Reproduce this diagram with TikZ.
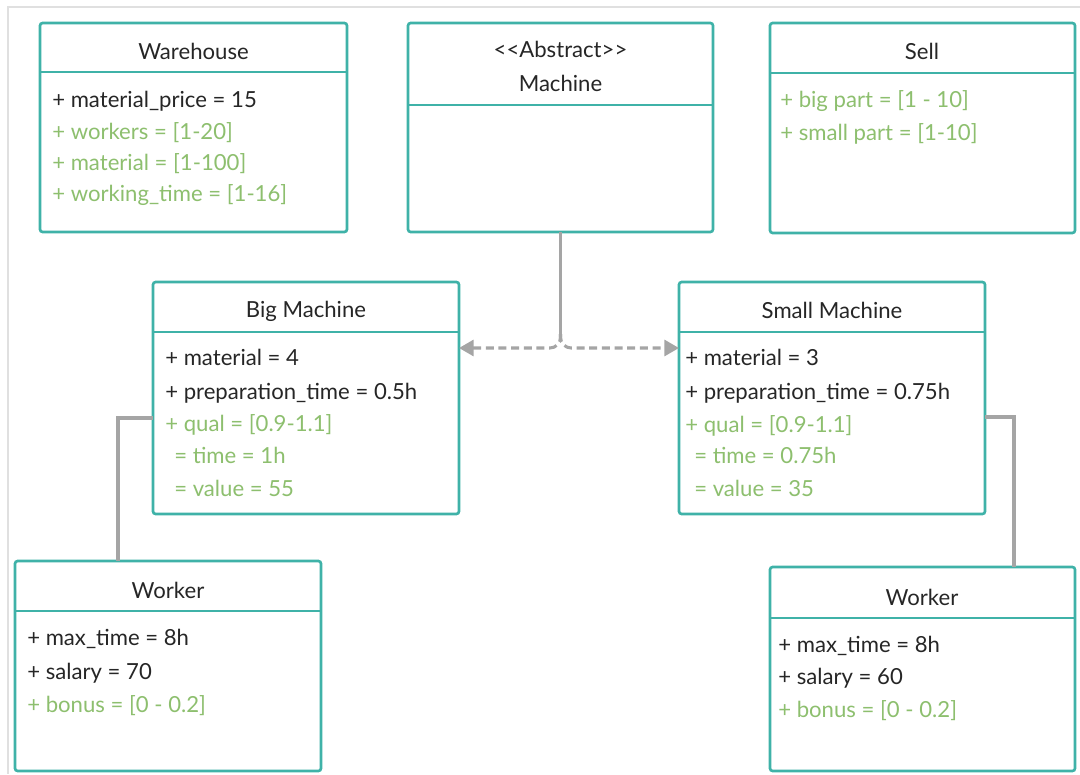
\documentclass[tikz,border=0pt]{standalone}
\usepackage{fontspec}
\setmainfont{Lato}
\usetikzlibrary{arrows.meta}
\definecolor{tealB}{HTML}{3FB2A8}
\definecolor{greenT}{HTML}{8DBF6E}
\definecolor{darkT}{HTML}{262626}
\definecolor{connG}{HTML}{A5A5A5}
\begin{document}
\begin{tikzpicture}[x=0.75pt,y=-0.75pt,
  classbox/.style={draw=tealB, line width=2pt, rounded corners=2pt, fill=white, anchor=north west, inner sep=0pt, outer sep=0pt},
  divider/.style={draw=tealB, line width=2pt},
  ttl/.style={font=\fontsize{16.6}{19}\selectfont, text=darkT, inner sep=0pt},
  attr/.style={font=\fontsize{16.6}{19}\selectfont, text=darkT, anchor=west, inner sep=0pt, text height=0.75em, text depth=0.25em, yshift=-2.2pt},
  gattr/.style={attr, text=greenT},
  conn/.style={draw=connG, line width=2.3pt},
  dconn/.style={conn, dash pattern=on 6pt off 3.5pt, rounded corners=8pt, -{Triangle[length=11pt,width=12pt]}},
]
\useasboundingbox (0,0) rectangle (1080,774);
\draw[draw=black!12, line width=0.8pt] (8,774) -- (8,7) -- (1080,7);

% boxes
\node[classbox, minimum width=307*0.75pt, minimum height=209*0.75pt] (wh) at (40,23) {};
\node[classbox, minimum width=305*0.75pt, minimum height=209*0.75pt] (m) at (408,23) {};
\node[classbox, minimum width=305*0.75pt, minimum height=210*0.75pt] (sell) at (770,23) {};
\node[classbox, minimum width=306*0.75pt, minimum height=232*0.75pt] (bm) at (153,282) {};
\node[classbox, minimum width=306*0.75pt, minimum height=232*0.75pt] (sm) at (679,282) {};
\node[classbox, minimum width=306*0.75pt, minimum height=210*0.75pt] (wl) at (15,561) {};
\node[classbox, minimum width=305*0.75pt, minimum height=204*0.75pt] (wr) at (770,567) {};

% dividers
\draw[divider] (wh.west |- 0,72) -- (wh.east |- 0,72);
\draw[divider] (m.west |- 0,105) -- (m.east |- 0,105);
\draw[divider] (sell.west |- 0,73) -- (sell.east |- 0,73);
\draw[divider] (bm.west |- 0,332) -- (bm.east |- 0,332);
\draw[divider] (sm.west |- 0,332) -- (sm.east |- 0,332);
\draw[divider] (wl.west |- 0,611) -- (wl.east |- 0,611);
\draw[divider] (wr.west |- 0,618) -- (wr.east |- 0,618);

% titles
\node[ttl] (whT) at (193.5,51) {Warehouse};
\node[ttl] (mS) at (560.5,49) {<{}<Abstract>{}>};
\node[ttl] (mT) at (560.5,83) {Machine};
\node[ttl] (sellT) at (922,51) {Sell};
\node[ttl] (bmT) at (306,311) {Big Machine};
\node[ttl] (smT) at (832,310) {Small Machine};
\node[ttl] (wlT) at (168,590) {Worker};
\node[ttl] (wrT) at (922,597) {Worker};

% Warehouse attributes
\node[attr]  (wh1) at (52,101) {+ material\_price = 15};
\node[gattr] (wh2) at (52,133) {+ workers = [1-20]};
\node[gattr] (wh3) at (52,164) {+ material = [1-100]};
\node[gattr] (wh4) at (52,195) {+ working\_time = [1-16]};

% Sell attributes
\node[gattr] (se1) at (780,101) {+ big part = [1 - 10]};
\node[gattr] (se2) at (780,134) {+ small part = [1-10]};

% Big Machine attributes
\node[attr]  (bm1) at (165,359) {+ material = 4};
\node[attr]  (bm2) at (165,393) {+ preparation\_time = 0.5h};
\node[gattr] (bm3) at (165,425) {+ qual = [0.9-1.1]};
\node[gattr] (bm4) at (174,457) {= time = 1h};
\node[gattr] (bm5) at (174,490) {= value = 55};

% Small Machine attributes
\node[attr]  (sm1) at (685,359) {+ material = 3};
\node[attr]  (sm2) at (685,393) {+ preparation\_time = 0.75h};
\node[gattr] (sm3) at (685,426) {+ qual = [0.9-1.1]};
\node[gattr] (sm4) at (694,457) {= time = 0.75h};
\node[gattr] (sm5) at (694,490) {= value = 35};

% Worker left
\node[attr]  (wl1) at (27,639) {+ max\_time = 8h};
\node[attr]  (wl2) at (27,673) {+ salary = 70};
\node[gattr] (wl3) at (27,706) {+ bonus = [0 - 0.2]};

% Worker right
\node[attr]  (wr1) at (778,646) {+ max\_time = 8h};
\node[attr]  (wr2) at (778,678) {+ salary = 60};
\node[gattr] (wr3) at (778,711) {+ bonus = [0 - 0.2]};

% connectors
\coordinate (jTop) at (m.south |- 0,334);
\coordinate (jY) at (0,348);
\draw[conn] (m.south) -- (jTop);
\draw[dconn] (jTop) |- (bm.east |- jY);
\draw[dconn] (jTop) |- (sm.west |- jY);
\draw[conn] (bm.west |- 0,418) -| (wl.north -| 118,0);
\draw[conn] (sm.east |- 0,417) -| (wr.north -| 1014,0);
\end{tikzpicture}
\end{document}
